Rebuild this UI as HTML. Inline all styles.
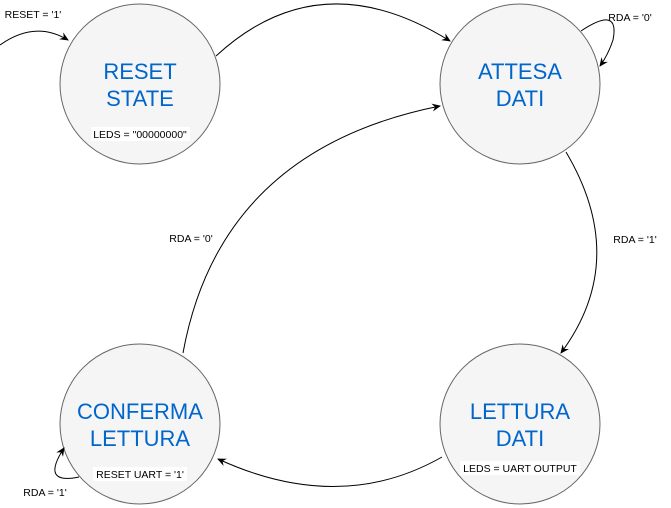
<!DOCTYPE html>
<html><head><meta charset="utf-8"><style>html,body{margin:0;padding:0;background:#fff}svg{display:block}</style></head>
<body>
<svg width="671" height="508" viewBox="0 0 671 508" xmlns="http://www.w3.org/2000/svg" font-family="Liberation Sans, sans-serif">
<defs>
<marker id="a" markerWidth="10" markerHeight="10" refX="8" refY="5" orient="auto" markerUnits="userSpaceOnUse">
<path d="M0,1 L9,5 L0,9 L3,5 Z" fill="#000"/>
</marker>
</defs>
<g fill="#f5f5f5" stroke="#666" stroke-width="1">
<circle cx="140" cy="84" r="80"/>
<circle cx="520" cy="84" r="80"/>
<circle cx="520" cy="424" r="80"/>
<circle cx="140" cy="424" r="80"/>
</g>
<g fill="none" stroke="#000" stroke-width="1">
<path d="M0,45 Q35,20 68,40" marker-end="url(#a)"/>
<path d="M216,56 Q320,-40 450,41" marker-end="url(#a)"/>
<path d="M581,31 Q620,5 613,40 Q608,55 600,66" marker-end="url(#a)"/>
<path d="M566,152 Q630,260 561,353" marker-end="url(#a)"/>
<path d="M442,457 Q340,515 218,459" marker-end="url(#a)"/>
<path d="M183,353 Q220,150 440,106" marker-end="url(#a)"/>
<path d="M79,477 Q40,485 64,448" marker-end="url(#a)"/>
</g>
<g fill="#0066cc" font-size="22" text-anchor="middle">
<text x="140" y="79">RESET</text><text x="140" y="106">STATE</text>
<text x="520" y="79">ATTESA</text><text x="520" y="106">DATI</text>
<text x="520" y="419">LETTURA</text><text x="520" y="446">DATI</text>
<text x="140" y="419">CONFERMA</text><text x="140" y="446">LETTURA</text>
</g>
<g fill="#fff">
<rect x="91" y="127" width="99" height="14"/>
<rect x="460" y="461" width="120" height="14"/>
<rect x="93" y="467" width="94" height="14"/>
</g>
<g font-size="10.5" fill="#000" text-anchor="middle">
<text x="140" y="138">LEDS = "00000000"</text>
<text x="520" y="472">LEDS = UART OUTPUT</text>
<text x="140" y="478">RESET UART = '1'</text>
<text x="33" y="18">RESET = '1'</text>
<text x="630" y="21">RDA = '0'</text>
<text x="635" y="243">RDA = '1'</text>
<text x="191" y="242">RDA = '0'</text>
<text x="45" y="496">RDA = '1'</text>
</g>
</svg>
</body></html>
